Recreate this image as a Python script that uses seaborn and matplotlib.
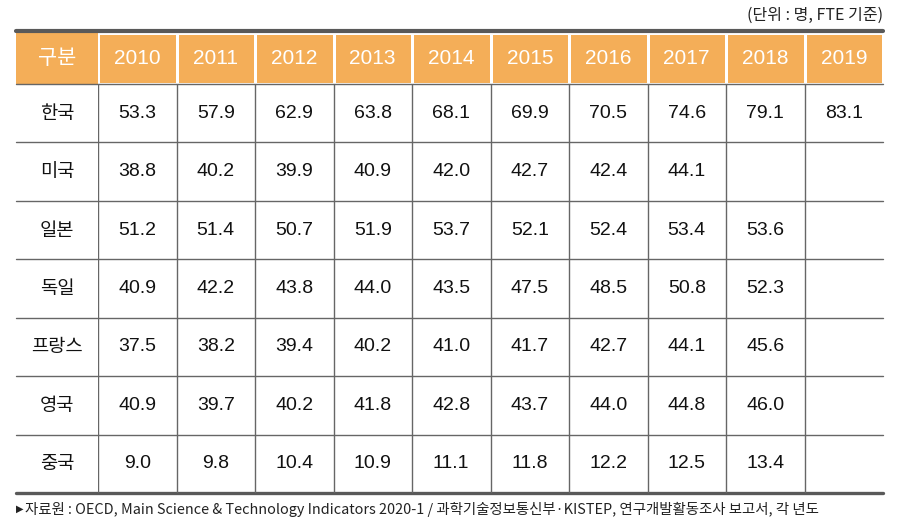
import numpy as np
import pandas as pd
import seaborn as sns
import matplotlib
matplotlib.use("Agg")
import matplotlib.pyplot as plt
from matplotlib.colors import ListedColormap
from matplotlib.patches import Rectangle

# --- data ---
years = ["2010", "2011", "2012", "2013", "2014", "2015", "2016", "2017", "2018", "2019"]
countries = ["한국", "미국", "일본", "독일", "프랑스", "영국", "중국"]
korea   = [53.3, 57.9, 62.9, 63.8, 68.1, 69.9, 70.5, 74.6, 79.1, 83.1]
usa     = [38.8, 40.2, 39.9, 40.9, 42.0, 42.7, 42.4, 44.1, None, None]
japan   = [51.2, 51.4, 50.7, 51.9, 53.7, 52.1, 52.4, 53.4, 53.6, None]
germany = [40.9, 42.2, 43.8, 44.0, 43.5, 47.5, 48.5, 50.8, 52.3, None]
france  = [37.5, 38.2, 39.4, 40.2, 41.0, 41.7, 42.7, 44.1, 45.6, None]
uk      = [40.9, 39.7, 40.2, 41.8, 42.8, 43.7, 44.0, 44.8, 46.0, None]
china   = [9.0, 9.8, 10.4, 10.9, 11.1, 11.8, 12.2, 12.5, 13.4, None]

unit_text = "(단위 : 명, FTE 기준)"
source_text = ("자료원 : OECD, Main Science & Technology Indicators 2020-1 / "
               "과학기술정보통신부·KISTEP, 연구개발활동조사 보고서, 각 년도")

df = pd.DataFrame([korea, usa, japan, germany, france, uk, china],
                  index=countries, columns=years, dtype=float)
annot = df.map(lambda v: "" if pd.isna(v) else f"{v:.1f}").values

sns.set_theme(style="white")
num_font = ["Liberation Sans", "Noto Sans CJK KR"]
kor_font = ["Noto Sans CJK KR", "DejaVu Sans"]
plt.rcParams["font.family"] = kor_font

ORANGE = "#F4AE58"
LINE = "#666666"
DARK = "#595959"
W, H = 899, 532

fig = plt.figure(figsize=(W / 100, H / 100), dpi=100)
fig.patch.set_facecolor("white")

# pixel layout
x_left, x_first, x_right = 16, 98, 883
y_head_top, y_body_top, y_body_bot = 33, 84, 493
lab_frac = (x_first - x_left) / (x_right - x_first)

# --- header ---
ax_head = fig.add_axes([x_first / W, 1 - y_body_top / H,
                        (x_right - x_first) / W, (y_body_top - y_head_top) / H])
sns.heatmap(np.zeros((1, len(years))), cmap=ListedColormap([ORANGE]), cbar=False,
            annot=np.array([years]), fmt="", linewidths=1, linecolor="white",
            xticklabels=False, yticklabels=False, ax=ax_head,
            annot_kws={"color": "white", "fontsize": 15, "family": num_font})
ax_head.add_patch(Rectangle((-lab_frac, 0), lab_frac, 1, transform=ax_head.transAxes,
                            facecolor=ORANGE, edgecolor="none", clip_on=False))
ax_head.text(-lab_frac / 2, 0.5, "구분", transform=ax_head.transAxes, ha="center",
             va="center", color="white", fontsize=15)
ax_head.axhline(-0.04, xmin=-lab_frac, xmax=1, color=DARK, lw=3, clip_on=False)

# --- body ---
ax = fig.add_axes([x_first / W, 1 - y_body_bot / H,
                   (x_right - x_first) / W, (y_body_bot - y_body_top) / H])
sns.heatmap(np.zeros(df.shape), cmap=ListedColormap(["white"]), cbar=False,
            annot=annot, fmt="", linewidths=0, xticklabels=False,
            yticklabels=countries, ax=ax,
            annot_kws={"color": "#111111", "fontsize": 14, "family": num_font})
ax.tick_params(axis="y", length=0, pad=29.5)
for t in ax.get_yticklabels():
    t.set_rotation(0)
    t.set_ha("center")
    t.set_fontsize(13.5)
    t.set_color("#111111")

for i in range(len(countries)):
    ax.axhline(i, xmin=-lab_frac, xmax=1, color=LINE, lw=1, clip_on=False)
ax.axhline(len(countries), xmin=-lab_frac, xmax=1, color=DARK, lw=2.4, clip_on=False)
for j in range(len(years)):
    ax.axvline(j, color=LINE, lw=1)

# --- texts ---
fig.text(x_right / W, 1 - 15 / H, unit_text, ha="right", va="center",
         fontsize=11.5, color="#222222")
fig.text(x_left / W, 1 - 509 / H, "▶", ha="left", va="center",
         fontsize=7, color="#222222", family=["DejaVu Sans"])
fig.text((x_left + 9) / W, 1 - 509 / H, source_text, ha="left", va="center",
         fontsize=10.4, color="#222222")

fig.savefig("out.png", dpi=100)
